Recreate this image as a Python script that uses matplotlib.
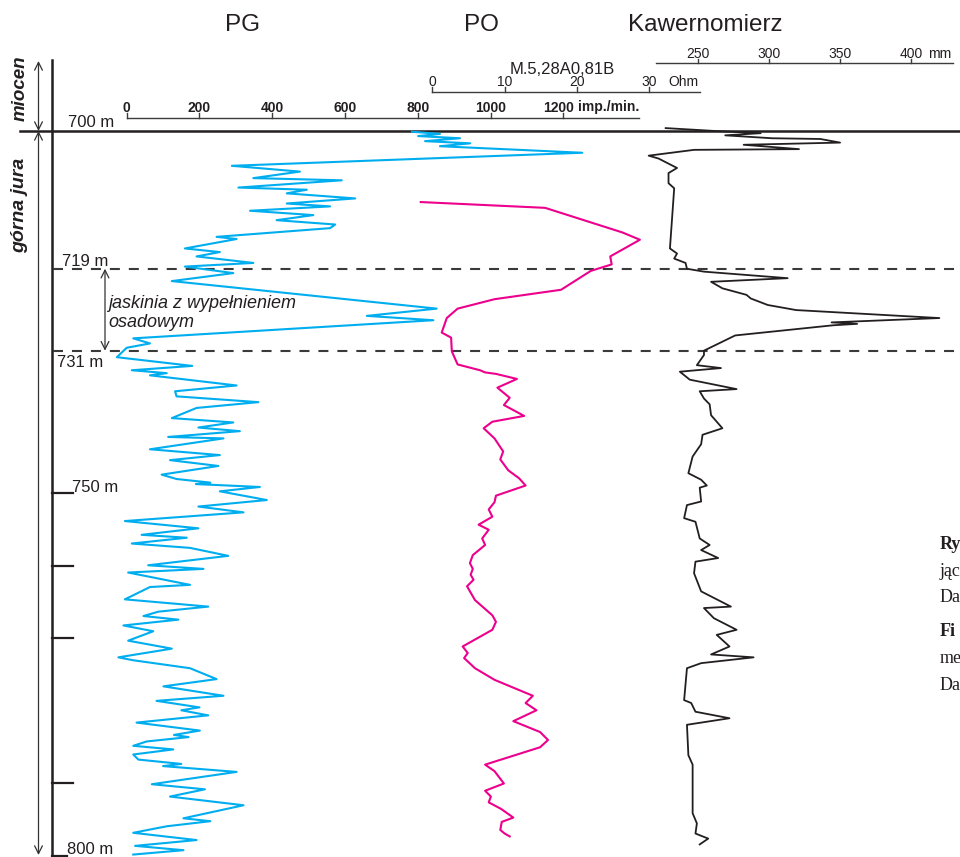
import matplotlib.pyplot as plt
import matplotlib.transforms as mtransforms

plt.rcParams['font.family'] = ['Liberation Sans', 'DejaVu Sans']

W, H = 960, 857

# gamma log PG (imp./min.)
pg_depth = [700.1, 700.4, 700.7, 701.0, 701.4, 701.7, 702.1, 703.0, 704.8, 705.6,
            706.5, 706.8, 707.8, 708.1, 708.6, 709.3, 710.0, 710.4, 711.0, 711.6,
            712.3, 712.9, 713.4, 714.6, 714.9, 716.2, 716.7, 717.3, 718.2, 718.7,
            719.6, 720.7, 724.5, 725.5, 726.1, 728.6, 729.3, 729.9, 731.2, 732.4,
            733.0, 733.4, 733.7, 735.1, 735.9, 736.6, 737.4, 738.2, 739.6, 740.2, 740.9, 741.4,
            742.2, 742.4, 743.9, 744.7, 745.4, 746.2, 747.4, 748.0, 748.5, 748.7, 749.1, 749.7,
            750.9, 751.8, 752.6, 753.8, 754.8, 755.7, 756.1, 756.9, 757.5, 758.6,
            759.9, 760.4, 760.9, 762.6, 762.9, 764.6, 765.6, 766.3, 766.9, 767.4,
            768.2, 769.0, 770.3, 771.4, 772.6, 773.0, 774.1, 775.6, 776.6, 777.9,
            778.6, 779.5, 779.9, 780.6, 781.6, 782.7, 783.3, 783.6, 784.2, 784.8,
            785.3, 786.0, 786.7, 787.3, 787.6, 788.4,
            790.1, 790.8, 791.8, 793.0, 794.8, 795.2, 795.9, 796.8, 797.8, 798.6, 799.2, 799.8]
pg_val = [784, 861, 801, 916, 820, 944, 861, 1252, 289, 476,
          348, 591, 307, 495, 440, 628, 440, 559, 339, 513,
          412, 573, 559, 247, 302, 160, 256, 192, 348, 160,
          293, 124, 852, 660, 843, 18, 64, 0, -27, 180,
          14, 110, 64, 302, 133, 137, 362, 192, 124, 293, 197, 311,
          114, 266, 64, 256, 119, 252, 96, 137, 230, 190, 366, 256,
          385, 197, 321, -5, 197, 41, 165, 14, 174, 279,
          59, 211, 4, 174, 64, -5, 224, 87, 46, 142,
          -9, 73, 4, 124, -23, 18, 174, 247, 101, 266,
          82, 200, 150, 224, 27, 201, 130, 170, 55, 18,
          128, 18, 32, 150, 100, 302,
          69, 215, 119, 321, 156, 230, 110, 18, 192, 23, 156, 18]

# resistivity PO (Ohm)
po_depth = [709.8, 710.6, 714.0, 715.0, 717.3, 718.4, 719.3, 721.9, 723.2, 724.5,
            725.8, 727.8, 728.5, 730.4, 732.2, 733.0, 733.3, 733.5, 734.2, 735.4,
            736.8, 737.8, 739.3, 740.1, 741.0, 742.4, 744.2, 745.3, 746.8, 747.9,
            748.9, 750.3, 751.2, 752.2, 753.2, 754.3, 755.0, 756.2, 757.1, 758.5,
            759.6, 760.4, 761.2, 761.9, 762.8, 764.7, 766.8, 767.7, 768.8, 771.1,
            772.0, 772.7, 774.1, 775.7, 777.9, 778.9, 779.9, 781.4, 782.9, 784.0,
            785.0, 787.4, 788.3, 790.0, 791.0, 791.8, 792.6, 793.5, 794.7, 795.3,
            796.4, 796.9, 797.3]
po_val = [-1.6, 15.6, 26.3, 28.7, 24.6, 24.8, 21.9, 17.8, 8.6, 3.5,
          2.0, 1.3, 2.6, 2.7, 3.5, 6.6, 7.3, 8.8, 11.7, 9.0,
          10.7, 9.9, 12.7, 8.3, 7.1, 8.6, 9.8, 9.4, 10.5, 12.0,
          12.9, 8.8, 8.6, 7.8, 8.3, 6.4, 7.8, 6.9, 7.3, 5.6,
          5.2, 5.6, 5.3, 5.7, 4.8, 5.9, 8.3, 8.8, 8.3, 4.2,
          4.9, 4.4, 5.9, 8.6, 13.9, 12.9, 14.4, 11.2, 14.9, 16.0,
          14.9, 7.3, 8.6, 9.9, 7.3, 8.1, 7.8, 9.5, 11.2, 9.6,
          9.4, 10.0, 10.7]

# caliper (mm)
cal_depth = [699.6, 700.0, 700.3, 700.6, 701.0, 701.1, 701.6, 701.9, 702.5, 702.6,
             703.4, 703.8, 705.1, 705.8, 707.2, 707.9, 716.2, 716.9, 717.6, 718.2,
             719.0, 719.4, 720.3, 720.8, 721.7, 722.6, 723.1, 724.0, 724.7, 725.8,
             726.4, 726.6, 726.8, 728.2, 730.3, 730.9, 732.3, 732.7, 733.2, 734.3,
             735.6, 735.9, 736.9, 737.7, 739.2, 741.0, 741.9, 743.2, 744.9, 747.2,
             748.1, 748.9, 749.2, 751.1, 751.6, 753.4, 753.9, 756.2, 757.1, 757.8,
             758.9, 759.4, 761.0, 763.5, 765.6, 765.8, 767.2, 768.8, 769.5, 771.1,
             772.2, 772.6, 773.4, 774.1, 778.5, 778.9, 780.1, 781.0, 781.9, 786.1,
             787.4, 794.1, 795.5, 796.9, 797.6, 798.4]
cal_val = [227, 262, 294, 269, 302, 336, 350, 282, 321, 247,
           215, 222, 235, 229, 229, 233, 230, 235, 233, 241,
           242, 254, 313, 259, 267, 284, 287, 299, 319, 420,
           344, 362, 345, 276, 254, 254, 249, 266, 237, 244,
           277, 251, 254, 258, 259, 267, 253, 252, 246, 243,
           252, 256, 251, 252, 242, 240, 248, 251, 258, 252,
           264, 248, 247, 252, 273, 254, 261, 277, 263, 272,
           259, 289, 252, 242, 240, 245, 248, 272, 242, 243,
           246, 246, 249, 248, 257, 251]

depth_ticks = [750, 760, 770, 790, 800]
cave_top, cave_bottom = 719, 730.3
pg_ticks = [0, 200, 400, 600, 800, 1000, 1200]
po_ticks = [0, 10, 20, 30]
cal_ticks = [250, 300, 350, 400]

txt = '#231f20'
line_col = '#3c3c3c'

fig = plt.figure(figsize=(W / 100, H / 100), dpi=100)
# pixel coords measured from the top-left corner
px = mtransforms.Affine2D().scale(1 / W, -1 / H).translate(0, 1) + fig.transFigure

# 700 m sits at y=131 px, 7.25 px per metre
y700, ppm = 131, 7.25


def dep(ypx):
    return 700 + (ypx - y700) / ppm


ylim = (dep(H), dep(0))


def track(x0, v0, x1, v1):
    a = fig.add_axes([0, 0, 1, 1])
    k = (x1 - x0) / (v1 - v0)
    a.set_xlim(v0 - x0 / k, v0 + (W - x0) / k)
    a.set_ylim(*ylim)
    a.axis('off')
    a.patch.set_alpha(0)
    return a


def scale_bar(a, y, v0, v1, ticks, base, size, weight, tl=5, last_dx=0):
    t = mtransforms.blended_transform_factory(a.transData, px)
    a.plot([v0, v1], [y, y], color=line_col, lw=1.0, transform=t)
    for i, v in enumerate(ticks):
        a.plot([v, v], [y - tl, y], color=line_col, lw=1.0, transform=t)
        lab = a.text(v, base, str(v), transform=t, ha='center', va='baseline',
                     fontsize=size, fontweight=weight, color=txt)
        if i == len(ticks) - 1 and last_dx:
            lab.set_transform(t + mtransforms.Affine2D().translate(last_dx, 0))


fr = track(0, 0, W, W)
ax_pg = track(126.7, 0, 563.3, 1200)
ax_po = track(432.3, 0, 649.3, 30)
ax_cal = track(698.3, 250, 911, 400)

# curves
ax_pg.plot(pg_val, pg_depth, color='#00aeef', lw=1.5)
ax_po.plot(po_val, po_depth, color='#ec008c', lw=1.5)
ax_cal.plot(cal_val, cal_depth, color=txt, lw=1.3)

# scale bars
scale_bar(ax_pg, 118.3, 0, 1409, pg_ticks, 111.5, 10, 'bold', last_dx=-5)
ax_pg.text(578, 111.5, 'imp./min.', transform=px, va='baseline', fontsize=10,
           fontweight='bold', color=txt)
scale_bar(ax_po, 91.7, 0, 37, po_ticks, 86.5, 10, 'normal')
ax_po.text(668, 86.5, 'Ohm', transform=px, va='baseline', fontsize=10, color=txt)
ax_po.text(562.5, 73.5, 'M.5,28A0,81B', transform=px, ha='center', va='baseline',
           fontsize=12, color=txt)
scale_bar(ax_cal, 63.3, 220.2, 429.6, cal_ticks, 58, 10, 'normal', tl=4)
ax_cal.text(928, 58, 'mm', transform=px, va='baseline', fontsize=10, color=txt)

# headers
for x, s in [(243, 'PG'), (481, 'PO'), (705, 'Kawernomierz')]:
    fr.text(x, 25, s, transform=px, ha='center', va='center', fontsize=17.5, color=txt)

# depth frame
fr.plot([20, W], [700, 700], color=txt, lw=1.8)
fr.plot([52, 52], [dep(60), ylim[0]], color=txt, lw=1.8)
for d in depth_ticks:
    fr.plot([52, 73 if d < 800 else 67], [d, d], color=txt, lw=1.6)
for d in (cave_top, cave_bottom):
    fr.plot([53, W], [d, d], color='#3a3a3a', lw=1.5, ls=(0, (4.8, 4.3)))

for x, d, s, off in [(68, 700, '700 m', 4), (62, cave_top, '719 m', 3),
                     (57, cave_bottom, '731 m', -16), (72, 750, '750 m', 1),
                     (67, 800, '800 m', 2)]:
    fr.annotate(s, (x, d), xytext=(0, off), textcoords='offset pixels',
                va='baseline', fontsize=12, color=txt)

arrow = dict(arrowstyle='<->', color='#333333', lw=0.9, shrinkA=0, shrinkB=0,
             mutation_scale=14)
fr.annotate('', xy=(38.5, dep(61)), xytext=(38.5, 700), arrowprops=arrow)
fr.annotate('', xy=(38.5, 700), xytext=(38.5, dep(855)), arrowprops=arrow)
fr.annotate('', xy=(105, cave_top), xytext=(105, cave_bottom), arrowprops=arrow)

fr.text(20, 88, 'miocen', transform=px, rotation=90, ha='center', va='center',
        fontsize=13.5, fontweight='bold', fontstyle='italic', color=txt)
fr.text(20, 205, 'górna jura', transform=px, rotation=90, ha='center', va='center',
        fontsize=14, fontweight='bold', fontstyle='italic', color=txt)
fr.text(108, 313, 'jaskinia z wypełnieniem\nosadowym', transform=px, va='center',
        fontsize=13, fontstyle='italic', color=txt, linespacing=1.1)

# cut-off caption of the neighbouring figure
serif = ['Liberation Serif', 'DejaVu Serif']
for y, s, w in [(545, 'Ry', 'bold'), (572, 'jąc', 'normal'), (598, 'Da', 'normal'),
                (632, 'Fi', 'bold'), (659, 'me', 'normal'), (686, 'Da', 'normal')]:
    fr.text(940, y, s, transform=px, va='center', fontsize=13, fontweight=w,
            family=serif, color=txt)

fig.savefig('out.png', dpi=100)
